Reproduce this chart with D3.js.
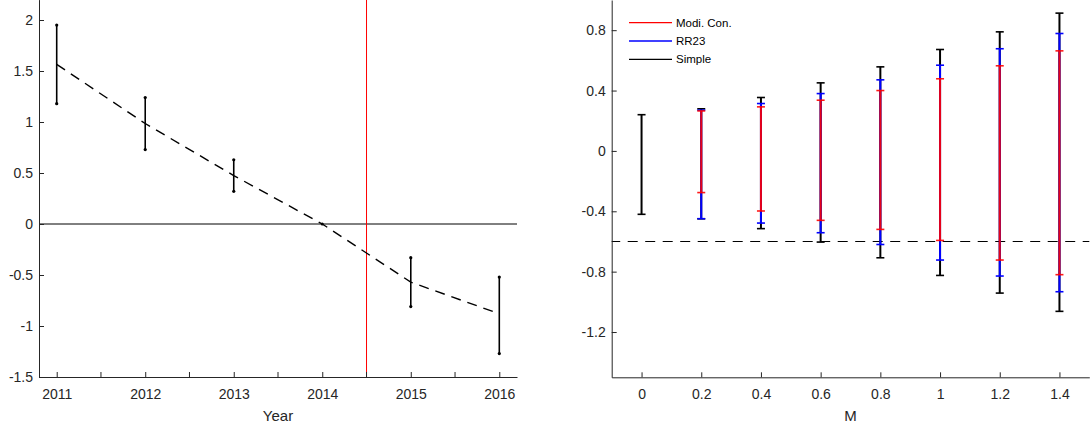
<!DOCTYPE html>
<html>
<head>
<meta charset="utf-8">
<script src="https://cdn.jsdelivr.net/npm/d3@7"></script>
<style>
  html, body { margin: 0; padding: 0; background: #fff; }
  svg { display: block; font-family: "Liberation Sans", Arial, Helvetica, sans-serif; }
</style>
</head>
<body>
<svg id="chart" width="1092" height="428"></svg>
<script>
// ---- Left panel data ----
const years = [2011, 2012, 2013, 2014, 2015, 2016];
const trend = [1.565, 0.985, 0.475, 0.0, -0.57, -0.88];
const errYears = [2011, 2012, 2013, 2015, 2016];
const errLow = [1.18, 0.73, 0.32, -0.81, -1.27];
const errHigh = [1.95, 1.24, 0.63, -0.33, -0.52];
const breakYear = 2014.5;
const leftYTicks = [-1.5, -1, -0.5, 0, 0.5, 1, 1.5, 2];
const leftXTicks = [2011, 2012, 2013, 2014, 2015, 2016];
const leftXMinor = [2011.5, 2012.5, 2013.5, 2014.5, 2015.5];

// ---- Right panel data ----
const mValues = [0, 0.2, 0.4, 0.6, 0.8, 1.0, 1.2, 1.4];
const simpleLow  = [-0.42, -0.45, -0.515, -0.604, -0.708, -0.825, -0.942, -1.063];
const simpleHigh = [0.24, 0.279, 0.354, 0.451, 0.557, 0.672, 0.789, 0.913];
const rr23Low    = [null, -0.449, -0.478, -0.542, -0.62, -0.723, -0.829, -0.933];
const rr23High   = [null, 0.27, 0.314, 0.38, 0.471, 0.568, 0.677, 0.778];
const modiLow    = [null, -0.276, -0.398, -0.46, -0.52, -0.593, -0.723, -0.82];
const modiHigh   = [null, 0.265, 0.292, 0.336, 0.40, 0.478, 0.564, 0.663];
const refLevel = -0.6;
const rightYTicks = [-1.2, -0.8, -0.4, 0, 0.4, 0.8];
const rightXTicks = [0, 0.2, 0.4, 0.6, 0.8, 1, 1.2, 1.4];
const legendNames = ["Modi. Con.", "RR23", "Simple"];
const legendColors = ["#ff0000", "#0000ff", "#000000"];

const svg = d3.select("#chart");
const axisColor = "#262626";
const tickFont = 14;

function fmt(v) {
  if (v === 0) return "0";
  return String(+v.toFixed(2));
}

function styleAxis(g) {
  g.select(".domain").attr("stroke", axisColor).attr("stroke-width", 1);
  g.selectAll(".tick line").attr("stroke", axisColor).attr("stroke-width", 1);
  g.selectAll(".tick text").attr("fill", axisColor).attr("font-size", tickFont)
    .attr("font-family", "Liberation Sans, Arial, sans-serif");
}

// ================= LEFT PANEL =================
const L = { left: 39, right: 517, top: -0.4, bottom: 377 };
const xL = d3.scaleLinear().domain([2010.8, 2016.2]).range([L.left, L.right]);
const yL = d3.scaleLinear().domain([-1.5, 2.2]).range([L.bottom, L.top]);

const gL = svg.append("g");

// zero line
gL.append("line")
  .attr("x1", xL(2010.8)).attr("x2", xL(2016.2))
  .attr("y1", yL(0)).attr("y2", yL(0))
  .attr("stroke", "#000").attr("stroke-width", 1);

// red vertical break
gL.append("line")
  .attr("x1", xL(breakYear)).attr("x2", xL(breakYear))
  .attr("y1", yL(2.2)).attr("y2", yL(-1.5))
  .attr("stroke", "#ff0000").attr("stroke-width", 1);

// dashed trend
const lineL = d3.line().x((d, i) => xL(years[i])).y(d => yL(d));
gL.append("path")
  .datum(trend)
  .attr("d", lineL)
  .attr("fill", "none")
  .attr("stroke", "#000")
  .attr("stroke-width", 1.4)
  .attr("stroke-dasharray", "10,7");

// error bars
errYears.forEach((yr, i) => {
  gL.append("line")
    .attr("x1", xL(yr)).attr("x2", xL(yr))
    .attr("y1", yL(errLow[i])).attr("y2", yL(errHigh[i]))
    .attr("stroke", "#000").attr("stroke-width", 1.6);
  [errLow[i], errHigh[i]].forEach(v => {
    gL.append("circle").attr("cx", xL(yr)).attr("cy", yL(v)).attr("r", 1.6).attr("fill", "#000");
  });
});
// 2014 point
gL.append("circle").attr("cx", xL(2014)).attr("cy", yL(0)).attr("r", 1.5).attr("fill", "#000");

// axes
const axLX = gL.append("g").attr("transform", `translate(0,${L.bottom})`)
  .call(d3.axisBottom(xL).tickValues(leftXTicks).tickSizeInner(-5).tickSizeOuter(0).tickPadding(12).tickFormat(d3.format("d")));
styleAxis(axLX);
axLX.selectAll(".tick text").attr("dy", "0.71em");
const minorL = gL.append("g");
leftXMinor.forEach(v => {
  minorL.append("line").attr("x1", xL(v)).attr("x2", xL(v))
    .attr("y1", L.bottom).attr("y2", L.bottom - 5).attr("stroke", axisColor);
});
const axLY = gL.append("g").attr("transform", `translate(${L.left},0)`)
  .call(d3.axisLeft(yL).tickValues(leftYTicks).tickSizeInner(-5).tickSizeOuter(0).tickPadding(6).tickFormat(fmt));
styleAxis(axLY);

gL.append("text")
  .attr("x", (L.left + L.right) / 2).attr("y", 421)
  .attr("text-anchor", "middle").attr("font-size", 15).attr("fill", axisColor)
  .text("Year");

// ================= RIGHT PANEL =================
const R = { left: 611.7, right: 1089.3, top: 0, bottom: 377.3 };
const xR = d3.scaleLinear().domain([-0.1, 1.5]).range([R.left, R.right]);
const yR = d3.scaleLinear().domain([-1.5, 1.0]).range([R.bottom, R.top]);
const gR = svg.append("g");

// dashed reference
gR.append("line")
  .attr("x1", xR(-0.1)).attr("x2", xR(1.5))
  .attr("y1", yR(refLevel)).attr("y2", yR(refLevel))
  .attr("stroke", "#000").attr("stroke-width", 1.1).attr("stroke-dasharray", "10,7.5")
  .attr("stroke-dashoffset", 1.5);

function drawBars(lows, highs, color, opacity) {
  mValues.forEach((m, i) => {
    if (lows[i] == null) return;
    const x = xR(m);
    const g = gR.append("g").attr("stroke", color).attr("stroke-opacity", opacity);
    g.append("line").attr("x1", x).attr("x2", x)
      .attr("y1", yR(lows[i])).attr("y2", yR(highs[i])).attr("stroke-width", 2);
    [lows[i], highs[i]].forEach(v => {
      g.append("line").attr("x1", x - 4).attr("x2", x + 4)
        .attr("y1", yR(v)).attr("y2", yR(v)).attr("stroke-width", 1.6);
    });
  });
}
drawBars(simpleLow, simpleHigh, "#000000", 1);
drawBars(rr23Low, rr23High, "#0000ff", 1);
drawBars(modiLow, modiHigh, "#ff0000", 0.9);

const axRX = gR.append("g").attr("transform", `translate(0,${R.bottom})`)
  .call(d3.axisBottom(xR).tickValues(rightXTicks).tickSizeInner(-5).tickSizeOuter(0).tickPadding(12).tickFormat(fmt));
styleAxis(axRX);
axRX.selectAll(".tick text").attr("dy", "0.71em");
const axRY = gR.append("g").attr("transform", `translate(${R.left},0)`)
  .call(d3.axisLeft(yR).tickValues(rightYTicks).tickSizeInner(-5).tickSizeOuter(0).tickPadding(6).tickFormat(fmt));
styleAxis(axRY);

gR.append("text")
  .attr("x", (R.left + R.right) / 2).attr("y", 421)
  .attr("text-anchor", "middle").attr("font-size", 15).attr("fill", axisColor)
  .text("M");

// legend
const leg = gR.append("g");
legendNames.forEach((name, i) => {
  const yy = 22.7 + i * 18.3;
  leg.append("line").attr("x1", 629).attr("x2", 672).attr("y1", yy).attr("y2", yy)
    .attr("stroke", legendColors[i]).attr("stroke-width", 1.3);
  leg.append("text").attr("x", 676).attr("y", yy).attr("dy", "0.35em")
    .attr("font-size", 11.5).attr("fill", "#000").text(name);
});
</script>
</body>
</html>
